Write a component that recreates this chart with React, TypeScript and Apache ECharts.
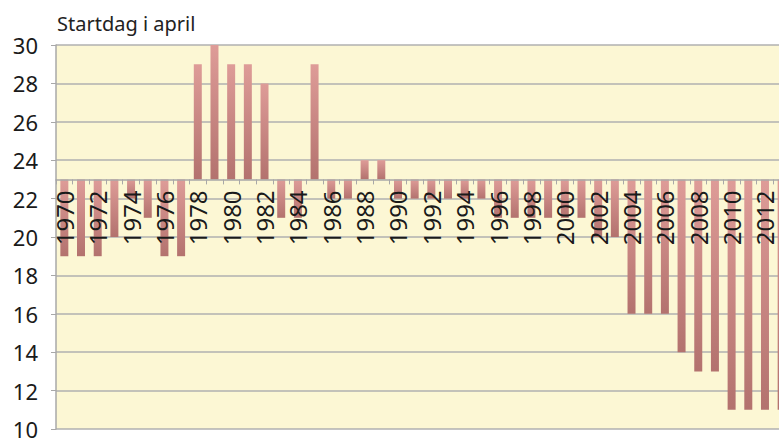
import React, { useEffect, useRef } from "react";
import * as echarts from "echarts";

const years: string[] = [];
for (let y = 1970; y <= 2013; y++) years.push(String(y));

// Start day in April, per year 1970–2013
const startDay: number[] = [
  19, 19, 19, 20, 22, 21, 19, 19, 29, 30,
  29, 29, 28, 21, 21, 29, 22, 22, 24, 24,
  22, 22, 22, 22, 22, 22, 21, 21, 21, 21,
  21, 21, 20, 20, 16, 16, 16, 14, 13, 13,
  11, 11, 11, 11,
];

const baseline = 23;
const yMin = 10;
const yMax = 30;
const yStep = 2;

export default function App() {
  const ref = useRef<HTMLDivElement>(null);
  useEffect(() => {
    if (!ref.current) return;
    const chart = echarts.init(ref.current, null, { renderer: "svg" });
    const font = "'Noto Sans', sans-serif";
    const H = 438;
    const gTop = 45;
    const gBottom = 9;
    const plotH = H - gTop - gBottom;
    const basePx = gTop + ((yMax - baseline) / (yMax - yMin)) * plotH;
    const grad = new echarts.graphic.LinearGradient(0, 0, 0, 1, [
      { offset: 0, color: "#de9c98" },
      { offset: 1, color: "#b3726e" },
    ]);
    chart.setOption({
      animation: false,
      title: {
        text: "Startdag i april",
        left: 52,
        top: 8,
        textStyle: { fontFamily: font, fontSize: 20, fontWeight: "normal", color: "#222" },
      },
      grid: [
        {
          left: 56,
          right: -11,
          top: gTop,
          bottom: gBottom,
          show: true,
          backgroundColor: "#fcf7d4",
          borderWidth: 0,
          outerBoundsMode: "none",
          containLabel: false,
        },
        {
          left: 56,
          right: -11,
          top: gTop,
          bottom: H - basePx,
          show: false,
          outerBoundsMode: "none",
          containLabel: false,
        },
      ],
      xAxis: [
        {
          type: "category",
          gridIndex: 0,
          data: years,
          show: false,
        },
        {
          type: "category",
          gridIndex: 1,
          data: years,
          position: "bottom",
          z: 10,
          axisLine: { show: true, onZero: false, lineStyle: { color: "#a8a8a8", width: 1.5 } },
          axisTick: { show: true, interval: 0, length: 5, lineStyle: { color: "#a8a8a8" } },
          axisLabel: {
            show: true,
            interval: 1,
            rotate: 90,
            margin: 11,
            fontFamily: font,
            fontSize: 24,
            color: "#1a1a1a",
            padding: [3, 0, 0, 0],
          },
          splitLine: { show: false },
        },
      ],
      yAxis: [
        {
          type: "value",
          gridIndex: 0,
          min: yMin - baseline,
          max: yMax - baseline,
          interval: yStep,
          axisLine: { show: true, onZero: false, lineStyle: { color: "#a8a8a8", width: 1.5 } },
          axisTick: { show: true, length: 5, lineStyle: { color: "#a8a8a8" } },
          axisLabel: {
            margin: 18,
            fontFamily: font,
            fontSize: 22,
            color: "#1a1a1a",
            formatter: (v: number) => String(Math.round(v + baseline)),
          },
          splitLine: { show: true, lineStyle: { color: "#b0b0b0", width: 1.5 } },
        },
        {
          type: "value",
          gridIndex: 1,
          min: 0,
          max: 1,
          show: false,
        },
      ],
      series: [
        {
          type: "bar",
          xAxisIndex: 0,
          yAxisIndex: 0,
          data: startDay.map((v) => v - baseline),
          barWidth: 8,
          itemStyle: { color: grad },
        },
      ],
    });
    return () => chart.dispose();
  }, []);
  return (
    <div
      ref={ref}
      style={{ position: "absolute", left: 0, top: 0, width: 779, height: 438, overflow: "hidden" }}
    />
  );
}
